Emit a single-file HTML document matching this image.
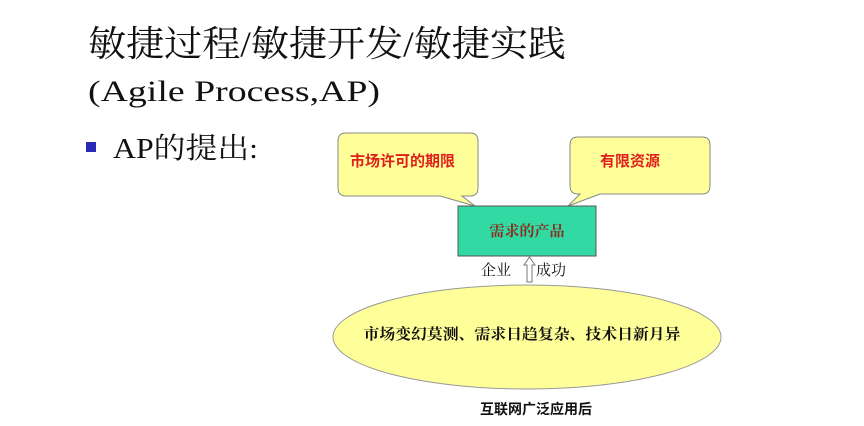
<!DOCTYPE html>
<html><head><meta charset="utf-8"><style>
html,body{margin:0;padding:0;background:#fff;}
svg{display:block;}
</style></head><body>
<svg width="864" height="426" viewBox="0 0 864 426" xmlns="http://www.w3.org/2000/svg">
<text x="88" y="56" font-family="'Liberation Serif','Noto Serif CJK SC',serif" font-size="36" fill="#111" textLength="478" lengthAdjust="spacingAndGlyphs">敏捷过程/敏捷开发/敏捷实践</text>
<text x="88" y="101" font-family="'Liberation Serif',serif" font-size="30" fill="#111" textLength="292" lengthAdjust="spacingAndGlyphs">(Agile Process,AP)</text>
<rect x="86" y="142" width="10" height="10" fill="#2a2ab8"/>
<text x="113" y="158" font-family="'Liberation Serif','Noto Serif CJK SC',serif" font-size="29" fill="#111" textLength="145" lengthAdjust="spacingAndGlyphs">AP的提出:</text>
<path d="M346,133 H470 Q478,133 478,141 V188 Q478,196 470,196 H462 L475,206 L440,196 H346 Q338,196 338,188 V141 Q338,133 346,133 Z" fill="#ffff99" stroke="#888" stroke-width="1"/>
<text x="350" y="166" font-family="'Noto Sans CJK SC',sans-serif" font-weight="bold" font-size="15" fill="#e0201c">市场许可的期限</text>
<path d="M578,137 H702 Q710,137 710,145 V186 Q710,194 702,194 H600 L568,206 L580,194 H578 Q570,194 570,186 V145 Q570,137 578,137 Z" fill="#ffff99" stroke="#888" stroke-width="1"/>
<text x="600" y="166" font-family="'Noto Sans CJK SC',sans-serif" font-weight="bold" font-size="15" fill="#e0201c">有限资源</text>
<rect x="458" y="206" width="138" height="50" fill="#33d9a3" stroke="#555" stroke-width="1"/>
<text x="527" y="236" text-anchor="middle" font-family="'Noto Serif CJK SC',serif" font-weight="bold" font-size="15" fill="#8a2b1f">需求的产品</text>
<path d="M529.5,257 L535,265 H532 V282 H527 V265 H524 Z" fill="#fff" stroke="#777" stroke-width="1"/>
<text x="481" y="275" font-family="'Noto Serif CJK SC',serif" font-size="15" fill="#111">企业</text>
<text x="536" y="275" font-family="'Noto Serif CJK SC',serif" font-size="15" fill="#111">成功</text>
<ellipse cx="527" cy="337" rx="194" ry="52" fill="#ffff99" stroke="#999" stroke-width="1"/>
<text x="522" y="339" text-anchor="middle" font-family="'Noto Serif CJK SC',serif" font-weight="bold" font-size="15" fill="#111" textLength="317" lengthAdjust="spacingAndGlyphs">市场变幻莫测、需求日趋复杂、技术日新月异</text>
<text x="536" y="414" text-anchor="middle" font-family="'Noto Sans CJK SC',sans-serif" font-weight="bold" font-size="14" fill="#111">互联网广泛应用后</text>
</svg>
</body></html>
